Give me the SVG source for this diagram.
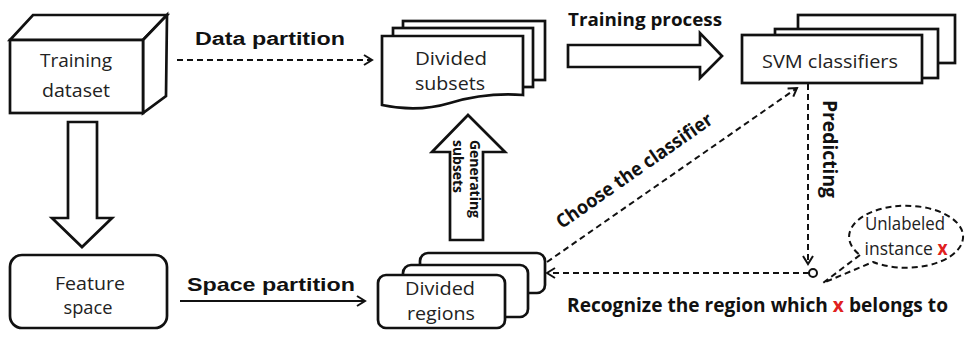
<svg xmlns="http://www.w3.org/2000/svg" width="966" height="337" viewBox="0 0 966 337">
<defs>
<marker id="chev" markerUnits="userSpaceOnUse" markerWidth="14" markerHeight="14" refX="9" refY="6" orient="auto" viewBox="0 0 14 12">
<path d="M1,1 L9,6 L1,11" fill="none" stroke="#111" stroke-width="2"/>
</marker>
</defs>
<style>
.sh{fill:#fff;stroke:#111;stroke-width:2.7;stroke-linejoin:miter}
.dash{fill:none;stroke:#111;stroke-width:2;stroke-dasharray:6 4}
.solid{fill:none;stroke:#111;stroke-width:2}
.t{font-family:"Open Sans","Liberation Sans",sans-serif;font-size:19px;fill:#222;text-anchor:middle}
.b{font-family:"Liberation Sans",Arial,sans-serif;font-weight:bold;fill:#111}
.c{font-family:"Open Sans","Liberation Sans",sans-serif;font-weight:bold;fill:#111}
.red{fill:#e02020}
</style>
<rect width="966" height="337" fill="#fff"/>

<g id="training-dataset">
<polygon class="sh" points="10,40 33,15 167,15 143,40"/>
<polygon class="sh" points="143,40 167,15 166,96 143,113"/>
<rect class="sh" x="10" y="40" width="133" height="73"/>
<text class="t" x="76" y="67" textLength="72" lengthAdjust="spacingAndGlyphs">Training</text>
<text class="t" x="76" y="97" textLength="68" lengthAdjust="spacingAndGlyphs">dataset</text>
</g>

<g id="divided-subsets">
<rect class="sh" x="403" y="21" width="142" height="59"/>
<rect class="sh" x="393" y="28" width="140" height="59"/>
<path class="sh" d="M382,36 H523 V95 C495,93 470,97 450,103 C430,109 405,110 382,105 Z"/>
<text class="t" x="451" y="65" textLength="72" lengthAdjust="spacingAndGlyphs">Divided</text>
<text class="t" x="450" y="90" textLength="70" lengthAdjust="spacingAndGlyphs">subsets</text>
</g>

<g id="svm-classifiers">
<rect class="sh" x="798" y="15" width="157" height="48"/>
<rect class="sh" x="775" y="29" width="163" height="49"/>
<rect class="sh" x="742" y="35" width="180" height="48"/>
<text class="t" x="830" y="68" textLength="136" lengthAdjust="spacingAndGlyphs">SVM classifiers</text>
</g>

<g id="feature-space">
<rect class="sh" x="10" y="255" width="157" height="73" rx="12"/>
<text class="t" x="90" y="290" textLength="70" lengthAdjust="spacingAndGlyphs">Feature</text>
<text class="t" x="88" y="314" textLength="49" lengthAdjust="spacingAndGlyphs">space</text>
</g>

<g id="divided-regions">
<rect class="sh" x="420" y="253" width="125" height="40" rx="8"/>
<rect class="sh" x="403" y="265" width="125" height="52" rx="8"/>
<rect class="sh" x="378" y="275" width="127" height="53" rx="8"/>
<text class="t" x="440" y="295" textLength="70" lengthAdjust="spacingAndGlyphs">Divided</text>
<text class="t" x="441" y="320" textLength="68" lengthAdjust="spacingAndGlyphs">regions</text>
</g>

<g id="unlabeled-instance">
<path class="dash" d="M860,255 L823,283 L873,262 A57,31 0 1 0 860,255"/>
<text class="t" x="905" y="230" textLength="80" lengthAdjust="spacingAndGlyphs">Unlabeled</text>
<text class="t" x="906" y="255" textLength="83" lengthAdjust="spacingAndGlyphs">instance <tspan class="red" font-weight="bold">x</tspan></text>
</g>

<g id="instance-point">
<circle cx="813" cy="273" r="4" fill="#fff" stroke="#111" stroke-width="2"/>
</g>

<g id="connectors">
<line class="dash" x1="177" y1="60" x2="372" y2="60" marker-end="url(#chev)"/>
<line class="solid" x1="180" y1="301" x2="365" y2="301" marker-end="url(#chev)"/>
<polygon class="sh" points="68,122 97,122 97,218 112,218 82,247 52,218 68,218"/>
<polygon class="sh" points="568,45 700,45 700,33 722,56 700,78 700,67 568,67"/>
<polygon class="sh" points="450,240 450,152 432,152 468,115 505,152 483,152 483,240"/>
<line class="dash" x1="547" y1="262" x2="797" y2="88" marker-end="url(#chev)"/>
<line class="dash" x1="808" y1="84" x2="808" y2="264" marker-end="url(#chev)"/>
<line class="dash" x1="809" y1="273" x2="547" y2="273" marker-end="url(#chev)"/>
</g>

<g id="labels">
<text class="b" x="195" y="45" font-size="18" textLength="150" lengthAdjust="spacingAndGlyphs">Data partition</text>
<text class="b" x="187" y="291" font-size="19" textLength="168" lengthAdjust="spacingAndGlyphs">Space partition</text>
<text class="c" x="568" y="26" font-size="18" textLength="154" lengthAdjust="spacingAndGlyphs">Training process</text>
<text class="c" font-size="19" transform="translate(823,100) rotate(90)" textLength="98" lengthAdjust="spacingAndGlyphs">Predicting</text>
<text class="c" font-size="14" transform="translate(470,140) rotate(90)" textLength="78" lengthAdjust="spacingAndGlyphs">Generating</text>
<text class="c" font-size="14" transform="translate(453,140) rotate(90)" textLength="53" lengthAdjust="spacingAndGlyphs">subsets</text>
<text class="c" font-size="19" text-anchor="middle" transform="translate(638,176) rotate(-35)" textLength="186" lengthAdjust="spacingAndGlyphs">Choose the classifier</text>
<text class="c" x="567" y="312" font-size="19" textLength="381" lengthAdjust="spacingAndGlyphs">Recognize the region which <tspan class="red">x</tspan> belongs to</text>
</g>
</svg>
